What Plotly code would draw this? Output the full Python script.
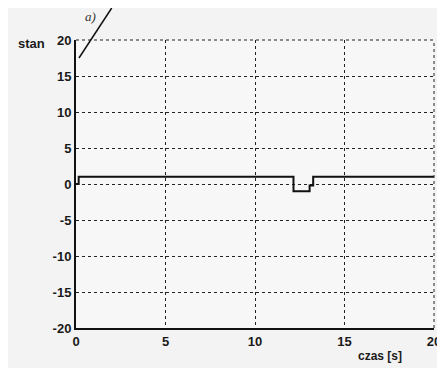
import plotly.graph_objects as go

# data
czas = [0, 0.15, 12.15, 13.05, 13.25, 20]
stan = [0, 1, -1, -0.2, 1, 1]
x_ticks = [0, 5, 10, 15, 20]
y_ticks = [-20, -15, -10, -5, 0, 5, 10, 15, 20]

W, H = 445, 368
OFF = 8  # page body margin offset
# plot area in screenshot pixels: x 76..437, y 40..328
L, R, T, B = 76 - OFF, W - 437 + OFF, 40 - OFF, H - 328 + OFF

fig = go.Figure()
fig.add_trace(go.Scatter(x=czas, y=stan, mode="lines", line=dict(color="#111", width=2, shape="hv"),
                         showlegend=False, hoverinfo="skip"))

tickfont = dict(family="Liberation Sans, Arial", size=13, color="#1a1a1a", weight="bold")
fig.update_xaxes(range=[0, 20], tickvals=x_ticks, ticktext=[str(v) for v in x_ticks],
                 showgrid=True, gridcolor="#222", griddash="dot", gridwidth=1,
                 showline=True, linecolor="#111", linewidth=2, mirror=False,
                 zeroline=False, ticks="", tickfont=tickfont)
fig.update_yaxes(range=[-20, 20], tickvals=y_ticks, ticktext=[str(v) for v in y_ticks],
                 showgrid=True, gridcolor="#222", griddash="dot", gridwidth=1,
                 showline=True, linecolor="#111", linewidth=2, mirror=False,
                 zeroline=False, ticks="", tickfont=tickfont)

# dotted top and right border
fig.add_shape(type="line", xref="paper", yref="paper", x0=0, x1=1, y0=1, y1=1,
              line=dict(color="#222", width=1, dash="dot"))
fig.add_shape(type="line", xref="paper", yref="paper", x0=1, x1=1, y0=0, y1=1,
              line=dict(color="#222", width=1, dash="dot"))

def px(x):
    return (x - OFF - L) / (W - L - R)

def py(y):
    return 1 - (y - OFF - T) / (H - T - B)

# slash pointer line from the document
fig.add_shape(type="line", xref="paper", yref="paper",
              x0=px(79), y0=py(58), x1=px(112), y1=py(8),
              line=dict(color="#111", width=1.5))

def label(text, x, y, font):
    fig.add_annotation(text=text, xref="paper", yref="paper", x=px(x), y=py(y),
                       xanchor="center", yanchor="middle", showarrow=False, font=font)

label("stan", 31, 44, dict(family="Liberation Sans, Arial", size=13, color="#1a1a1a", weight="bold"))
label("czas [s]", 383, 356, dict(family="Liberation Sans, Arial", size=12, color="#1a1a1a", weight="bold"))
label("a)", 91, 17, dict(family="Liberation Serif, Times New Roman", size=13, color="#333", style="italic"))

fig.update_layout(width=W, height=H, margin=dict(l=L, r=R, t=T, b=B),
                  paper_bgcolor="#f3f3f3", plot_bgcolor="#f7f7f7")

fig.write_html("out.html")
